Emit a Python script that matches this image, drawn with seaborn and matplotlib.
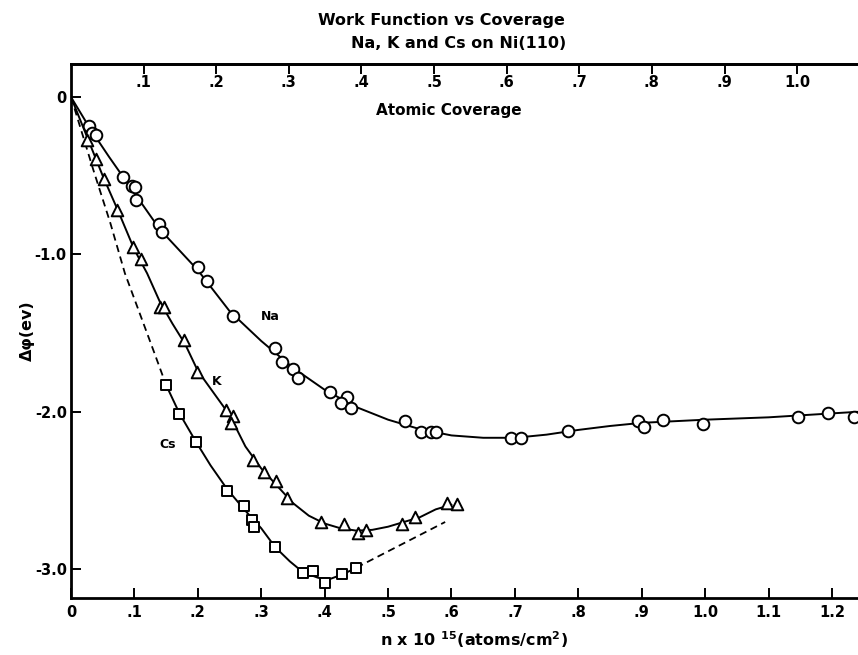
import matplotlib
matplotlib.use("Agg")
import matplotlib.pyplot as plt
import seaborn as sns
from matplotlib.ticker import FixedLocator, FixedFormatter

# ---- measured points ----
na_n = [0.029, 0.033, 0.040, 0.082, 0.096, 0.101, 0.103, 0.139, 0.143, 0.200, 0.215, 0.256,
        0.322, 0.333, 0.350, 0.358, 0.409, 0.435, 0.426, 0.442, 0.527, 0.552, 0.568, 0.575,
        0.694, 0.710, 0.783, 0.894, 0.903, 0.933, 0.996, 1.147, 1.193, 1.234]
na_dphi = [-0.185, -0.227, -0.240, -0.506, -0.565, -0.570, -0.654, -0.807, -0.856, -1.078, -1.169, -1.391,
           -1.593, -1.686, -1.730, -1.787, -1.876, -1.908, -1.946, -1.978, -2.058, -2.130, -2.130, -2.130,
           -2.164, -2.164, -2.122, -2.056, -2.094, -2.052, -2.078, -2.035, -2.006, -2.035]

k_n = [0.026, 0.039, 0.052, 0.072, 0.097, 0.110, 0.140, 0.146, 0.178, 0.198, 0.244, 0.255, 0.252,
       0.287, 0.305, 0.323, 0.341, 0.395, 0.430, 0.453, 0.465, 0.522, 0.543, 0.593, 0.608]
k_dphi = [-0.273, -0.394, -0.523, -0.716, -0.951, -1.031, -1.332, -1.332, -1.544, -1.750, -1.989, -2.027, -2.070,
          -2.306, -2.380, -2.440, -2.550, -2.700, -2.710, -2.768, -2.750, -2.710, -2.670, -2.580, -2.586]

cs_n = [0.150, 0.171, 0.197, 0.246, 0.273, 0.286, 0.289, 0.322, 0.366, 0.381, 0.401, 0.427, 0.450]
cs_dphi = [-1.830, -2.016, -2.194, -2.500, -2.600, -2.690, -2.730, -2.857, -3.026, -3.012, -3.090, -3.033, -2.990]

# ---- hand-drawn curves ----
na_curve_n = [0, 0.03, 0.06, 0.10, 0.14, 0.20, 0.25, 0.30, 0.35, 0.40, 0.45, 0.50, 0.55,
              0.60, 0.65, 0.70, 0.75, 0.80, 0.85, 0.90, 1.0, 1.1, 1.2, 1.24]
na_curve_dphi = [0, -0.20, -0.38, -0.61, -0.84, -1.10, -1.36, -1.55, -1.72, -1.86, -1.97, -2.05, -2.11,
                 -2.15, -2.165, -2.165, -2.145, -2.115, -2.09, -2.07, -2.05, -2.035, -2.01, -2.00]

k_curve_n = [0, 0.026, 0.05, 0.075, 0.10, 0.12, 0.14, 0.16, 0.18, 0.20, 0.225, 0.25, 0.275, 0.30,
             0.325, 0.35, 0.375, 0.40, 0.425, 0.45, 0.475, 0.50, 0.525, 0.55, 0.575, 0.60]
k_curve_dphi = [0, -0.26, -0.50, -0.73, -0.97, -1.12, -1.30, -1.44, -1.57, -1.74, -1.88, -2.02, -2.22, -2.36,
                -2.47, -2.58, -2.66, -2.71, -2.74, -2.755, -2.75, -2.73, -2.70, -2.67, -2.62, -2.59]

cs_curve_n = [0.150, 0.171, 0.197, 0.22, 0.246, 0.273, 0.30, 0.322, 0.345, 0.366, 0.39, 0.41, 0.43, 0.45]
cs_curve_dphi = [-1.83, -2.01, -2.19, -2.34, -2.49, -2.62, -2.74, -2.86, -2.95, -3.02, -3.055, -3.06, -3.03, -2.99]

cs_dash_start_n = [0, 0.035, 0.062, 0.085, 0.13, 0.150]
cs_dash_start_dphi = [0, -0.46, -0.80, -1.12, -1.61, -1.83]
cs_dash_end_n = [0.45, 0.59]
cs_dash_end_dphi = [-2.99, -2.70]

bottom_ticks = [0, 0.1, 0.2, 0.3, 0.4, 0.5, 0.6, 0.7, 0.8, 0.9, 1.0, 1.1, 1.2]
bottom_labels = ["0", ".1", ".2", ".3", ".4", ".5", ".6", ".7", ".8", ".9", "1.0", "1.1", "1.2"]
top_ticks = [0.1, 0.2, 0.3, 0.4, 0.5, 0.6, 0.7, 0.8, 0.9, 1.0]
top_labels = [".1", ".2", ".3", ".4", ".5", ".6", ".7", ".8", ".9", "1.0"]
y_ticks = [0, -1.0, -2.0, -3.0]
y_labels = ["0", "-1.0", "-2.0", "-3.0"]
surface_density = 1.145  # 10^15 atoms/cm^2 for one monolayer on Ni(110)

sns.set_style("ticks")
plt.rcParams["font.family"] = ["DejaVu Sans"]
plt.rcParams["font.weight"] = "bold"
for key in ["text.color", "axes.labelcolor", "xtick.color", "ytick.color", "axes.edgecolor"]:
    plt.rcParams[key] = "black"

fig = plt.figure(figsize=(8.58, 6.55), dpi=100)
ax = fig.add_axes([71 / 858, 1 - 598 / 655, 1 - 71 / 858, (598 - 64) / 655])

lw = 1.4
dash = (0, (4, 2.6))
sns.lineplot(x=na_curve_n, y=na_curve_dphi, sort=False, color="black", lw=lw, ax=ax, zorder=2)
sns.lineplot(x=k_curve_n, y=k_curve_dphi, sort=False, color="black", lw=lw, ax=ax, zorder=2)
sns.lineplot(x=cs_curve_n, y=cs_curve_dphi, sort=False, color="black", lw=lw, ax=ax, zorder=2)
sns.lineplot(x=cs_dash_start_n, y=cs_dash_start_dphi, sort=False, color="black", lw=1.3,
             ax=ax, zorder=2, linestyle=dash)
sns.lineplot(x=cs_dash_end_n, y=cs_dash_end_dphi, sort=False, color="black", lw=1.3,
             ax=ax, zorder=2, linestyle=dash)

mk = dict(color="white", edgecolor="black", linewidth=1.4, zorder=3, ax=ax, clip_on=False)
sns.scatterplot(x=na_n, y=na_dphi, marker="o", s=70, **mk)
sns.scatterplot(x=k_n, y=k_dphi, marker="^", s=70, **mk)
sns.scatterplot(x=cs_n, y=cs_dphi, marker="s", s=60, **mk)

ax.set_xlim(0, 1.241)
ax.set_ylim(-3.183, 0.21)

ax.xaxis.set_major_locator(FixedLocator(bottom_ticks))
ax.xaxis.set_major_formatter(FixedFormatter(bottom_labels))
ax.yaxis.set_major_locator(FixedLocator(y_ticks))
ax.yaxis.set_major_formatter(FixedFormatter(y_labels))
ax.tick_params(direction="in", length=7, width=1.4, labelsize=10.5, pad=5, colors="black")
ax.tick_params(axis="y", pad=3)

for side in ["left", "bottom", "top"]:
    ax.spines[side].set_linewidth(2.0)
    ax.spines[side].set_color("black")
ax.spines["right"].set_visible(False)

sec = ax.secondary_xaxis("top", functions=(lambda n: n / surface_density,
                                           lambda c: c * surface_density))
sec.xaxis.set_major_locator(FixedLocator(top_ticks))
sec.xaxis.set_major_formatter(FixedFormatter(top_labels))
sec.tick_params(direction="in", length=7, width=1.4, labelsize=10.5, pad=-19, colors="black")
sec.spines["top"].set_linewidth(2.0)
sec.spines["top"].set_color("black")

ax.set_xlabel("")
ax.set_ylabel("Δφ(ev)", fontsize=11.5, fontweight="bold", color="black")
ax.yaxis.set_label_coords(-0.046, 0.5)

fig.text(474 / 858, 1 - 640 / 655, "n x 10 $^{15}$(atoms/cm$^{2}$)", ha="center", va="center",
         fontsize=11.5, fontweight="bold", color="black")
fig.text(449 / 858, 1 - 110 / 655, "Atomic Coverage", ha="center", va="center",
         fontsize=11, fontweight="bold", color="black")
fig.text(441 / 858, 1 - 20 / 655, "Work Function vs Coverage", ha="center", va="center",
         fontsize=11.5, fontweight="bold", color="black")
fig.text(459 / 858, 1 - 43 / 655, "Na, K and Cs on Ni(110)", ha="center", va="center",
         fontsize=11.5, fontweight="bold", color="black")

ax.text(0.314, -1.396, "Na", ha="center", va="center", fontsize=9, fontweight="bold", color="black")
ax.text(0.230, -1.81, "K", ha="center", va="center", fontsize=9, fontweight="bold", color="black")
ax.text(0.153, -2.205, "Cs", ha="center", va="center", fontsize=9, fontweight="bold", color="black")

fig.savefig("out.png", dpi=100)
